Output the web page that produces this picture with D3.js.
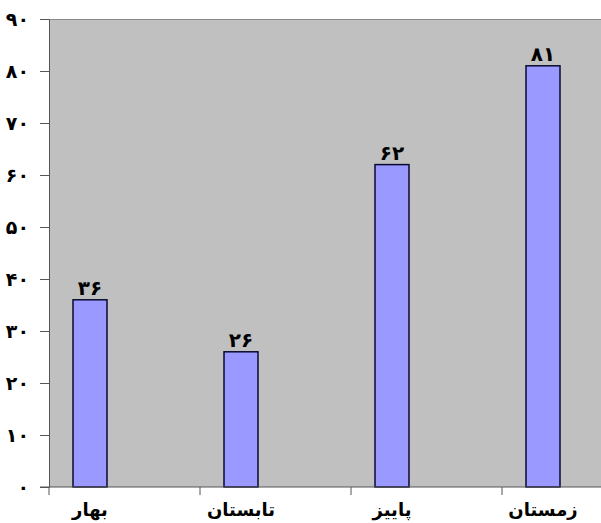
<!DOCTYPE html>
<html>
<head>
<meta charset="utf-8">
<script src="https://cdn.jsdelivr.net/npm/d3@7"></script>
<style>
  body { margin: 0; background: #fff; }
  text { font-family: "DejaVu Sans", sans-serif; font-weight: bold; fill: #000; }
</style>
</head>
<body>
<script>
// seasons and their values
const seasons = ["بهار", "تابستان", "پاییز", "زمستان"];
const values = [36, 26, 62, 81];
const yTicks = [0, 10, 20, 30, 40, 50, 60, 70, 80, 90];

const width = 601, height = 523;
const plot = { left: 49, top: 19, bottom: 487, right: 652 };

// latin digits -> persian digits
const faDigits = "۰۱۲۳۴۵۶۷۸۹";
const toFa = n => String(n).replace(/\d/g, d => faDigits[+d]);

const svg = d3.select("body").append("svg")
  .attr("width", width)
  .attr("height", height);

const x = d3.scaleBand().domain(seasons).range([plot.left - 1, plot.right]);
const y = d3.scaleLinear().domain([0, 90]).range([plot.bottom, plot.top]);

const barOffset = 25, barWidth = 34;

// gray plot area
svg.append("rect")
  .attr("x", plot.left)
  .attr("y", plot.top)
  .attr("width", width - plot.left)
  .attr("height", plot.bottom - plot.top)
  .attr("fill", "#c0c0c0");

svg.append("line")
  .attr("x1", plot.left).attr("x2", width)
  .attr("y1", plot.top + 0.5).attr("y2", plot.top + 0.5)
  .attr("stroke", "#8a8a8a");

// bars
svg.selectAll("rect.bar")
  .data(values)
  .enter().append("rect")
  .attr("class", "bar")
  .attr("x", (d, i) => x(seasons[i]) + barOffset)
  .attr("y", d => y(d))
  .attr("width", barWidth)
  .attr("height", d => y(0) - y(d))
  .attr("fill", "#9999ff")
  .attr("stroke", "#0a0a30")
  .attr("stroke-width", 1.5);

// value labels
svg.selectAll("text.val")
  .data(values)
  .enter().append("text")
  .attr("class", "val")
  .attr("x", (d, i) => x(seasons[i]) + barOffset + barWidth / 2)
  .attr("y", d => y(d) - 5)
  .attr("text-anchor", "middle")
  .attr("font-size", 20)
  .attr("letter-spacing", -1)
  .text(d => toFa(d));

// y axis
const yAxis = svg.append("g")
  .attr("transform", `translate(${plot.left},0)`)
  .call(d3.axisLeft(y).tickValues(yTicks).tickSize(9).tickPadding(11).tickFormat(toFa));
yAxis.select(".domain").attr("stroke", "#555");
yAxis.selectAll(".tick line").attr("stroke", "#555");
yAxis.selectAll("text")
  .attr("font-size", 19)
  .attr("letter-spacing", -1.5)
  .attr("font-family", "DejaVu Sans")
  .attr("font-weight", "bold");

// x axis
svg.append("line")
  .attr("x1", plot.left - 9).attr("x2", width)
  .attr("y1", plot.bottom).attr("y2", plot.bottom)
  .attr("stroke", "#555");

svg.selectAll("line.xtick")
  .data(seasons)
  .enter().append("line")
  .attr("class", "xtick")
  .attr("x1", d => x(d) + 1).attr("x2", d => x(d) + 1)
  .attr("y1", plot.bottom).attr("y2", plot.bottom + 8)
  .attr("stroke", "#555");

svg.selectAll("text.cat")
  .data(seasons)
  .enter().append("text")
  .attr("class", "cat")
  .attr("x", d => x(d) + barOffset + barWidth / 2)
  .attr("y", plot.bottom + 29)
  .attr("text-anchor", "middle")
  .attr("font-size", 18)
  .text(d => d);
</script>
</body>
</html>
